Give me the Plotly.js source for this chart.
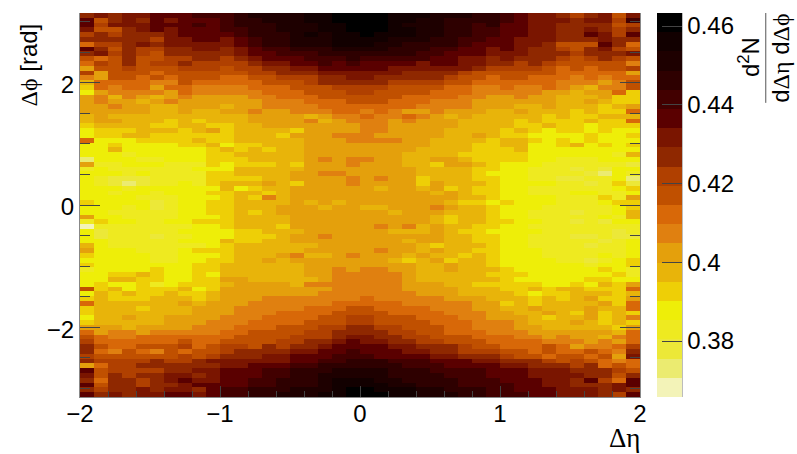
<!DOCTYPE html>
<html>
<head>
<meta charset="utf-8">
<script src="https://cdn.plot.ly/plotly-3.0.1.min.js"></script>
<style>html, body { margin: 0; background: #fff; }</style>
</head>
<body>
<div id="corr-plot" style="width: 797px; height: 454px;"></div>
<script>
// value and colour of each of the 20 colour bar bands, a = lowest ... t = highest
const bandLetters = "abcdefghijklmnopqrst";
const bandValues = [0.3682, 0.3731, 0.378, 0.3829, 0.3877, 0.3926, 0.3975, 0.4024, 0.4072, 0.4121,
    0.417, 0.4219, 0.4267, 0.4316, 0.4365, 0.4414, 0.4462, 0.4511, 0.456, 0.4609];
const bandColors = ["#f3f3b8", "#ebeb70", "#ece838", "#eeea20", "#eeee08", "#eecf06", "#e8b40a", "#e4a00c", "#e08010", "#d86808",
    "#c05000", "#b04000", "#8f2800", "#7a1500", "#5a0000", "#420000", "#2e0000", "#1e0000", "#120000", "#000000"];

// one row per delta phi bin, top of the picture first, 40 delta eta bins in each
const topRows = [
    "mnmnnooopp pqrrrrsstt ttsssrrrqq ponnmlmnkn",
    "okmnmonooo pqqrrrsstt ttssrrqqqq ponnnmnnlp",
    "olnnnooopo pqqqrrrsst ttsrrrqqpq oonnmmmmkl",
    "nkkmnonooo ppqqrrrsst ttssrrqqpp oonnmmnmlm",
    "lmlmmmnooo opqqqrsrss tsssrrqqpp oonnmmonlo",
    "mmmmmlnnoo nopqqrrrss ssrrrqqppo onnnmmmnmm",
    "jllmnmnnnn nopqqrrrss srrqqqqpoo onnmkkkomj",
    "omkmllmmnn mnoppqqqrr rrqqqppoon onmmlkmnlk",
    "mnlmlkmmmm mnoopppqqq qqqqppooon nnmmmlmmmn",
    "kjkmkkllmm lmnooopppq pppppoonnm nmmmlklmlk",
    "jlkmkllmll llmnnoopop oooonoonnm mlmlkkkkki",
    "hkklkkklll kllmmnnooo oonnnnnnml lllkjkjkkl",
    "lhkkkjkkkk kkllmmmnnn nnnmmmmlkk kkkkjjjjjh",
    "ihkkjkjkkk jjkklllmmn nmmmmmlkkj kkjjjijijj",
    "gjjjjiikjj jjjkkklmmm mmllllkkjj jjjjiiihik",
    "fjijjhjjii iijjjkkkll llkkkkjjii jiijihgiik",
    "ehiiiihjii iiijjjkkkl lkkkkjjjii iiihhghhjf",
    "higihghihh hhiijjjkkk kkkjjjjiih hihhggghff",
    "hihhghihhh hhhiiijjjk kkjjjiiihh hhhhgghgff",
    "hhihhgghhh ghhiiiijjj jjjjiiiihh hgghgggfgh",
    "hhhhhgghgg hhihhiiijj ijihhihhhg ghgggfgffj",
    "ghgggggggg gghhhhghii jiijihghgg gggfgffggg",
    "ghhgggfgfg gghhhhighi iihihhhggg gfgfffgffj",
    "fggggffggf fgghhhhhhh iihhhhhggg gffgffefff",
    "efffgggfgh fggggfhhhh iihhhhgggg fgfeffefee",
    "effggfffff fgggfhhhii ihhhhhgghg ffeeeefeef",
    "jeeeffffgf fggggghhhi iiihhggggf ggfefefeee",
    "eefeeeeffg effggghhhh hhhhhgggff ggeefgefef",
    "eegeeeeeef gfgfgghhhh hhhhggggff fgeeeeeeee",
    "eeedeeeeef fggggghhhh hhhggggfff ffeeeeeedg",
    "beeeddeeef ffgggghihi ihhgghhgff ffeedddeee",
    "hddeeedddf efffgfhhhi hhhggfhhgf eeeddddddc",
    "deddddddee eggggghhhh hhhhggggff eedddcdcee",
    "eeededdddf fgggghhiih hhhhggggfe eeddddcbed",
    "edcccddddf fffgghhhhi hihhfgggff eeddccddeb",
    "edcbcddedf ggghgfhhhi hhhhfhgggf eeeeddcdfc",
    "eeedeeeeee gefgghhhhh hghhghfgff eeddddddef",
    "eedeedeeef fggfghhhhh hhhhhghgff eedddeedde",
    "eeeedddeee fgfighhhhh hhhhhhhggf eeeedddfdh",
    "feeeecdeef fgggghghgh hhhhhhgffe feeedddeff",
];
const bottomRows = [
    "eeedecdeef fggghhhghh gghhhihggf eeedddddef",
    "eedddddeef fgfghhhhhh hhghhhgggf eedddcddeg",
    "heeddddeee fgggghhhhh hhhhhgfggf eedddddedg",
    "dfeeddeeff fgggghhhhh hhhhhgfggf feeddcdcee",
    "adddddddee fgggfhhhhh hihighggff eedddddddd",
    "ecdddddeee effggghhhh hhggghgffe eeedddddcd",
    "ecdddcddee efffghhihh hhhhhhggff eedddccdcc",
    "eedddddeee gffgghhhhh hhhghhggff eedddddcde",
    "geddddddde fgggggghhh hhhhgfgggf eeddddcdde",
    "heeedddeff fggggghhhh hihhghggff eeedddddde",
    "feeeeddeee fggghigghi hhhghggfgf eeeddddede",
    "eeeeeddeef fgghghhhhh hhgfghfggf eeeeddcdef",
    "feeeeeeeff gggggghhhh hhhhgghggf eeeeeedeef",
    "deeeefeeff gggggghhih iihhgghggg feeeeeefed",
    "eeffgfeefe gggggghhii iiihgggggf ffeeeeeefd",
    "eeggffeeff hhggggghii iiihgggggg feeeeeffee",
    "efeefdefff ghhhhgiiii iiihhhggff fffeefegfh",
    "kfgefffgef hhhhhhhhii iiihhhhggg ffgfggfffj",
    "egfgffgffg hhhhhhhiii iiiihhhggg gfeffgggfg",
    "fgfffgggfg hhhiiiiiii jiiiiihhhg ggfgfghffh",
    "jgggggghgh hhiiiiiijj jjjiiiiihh fgfgggghfj",
    "fgggfggghh hiiiiijjjk kjjjjiiihh gghggghggj",
    "fggggggghh hiiijjjjkk kkjjjjiiih hgghgfhfgf",
    "egghgghhhh iiijjjjkkl lkkkjjjiih hhgfgghfgi",
    "fggggghhhi iijjjjkkkl lkkkkjjjii ihggghgfgf",
    "hhhghhhhii ijjjkkkllm mllkkkjjii ihhgggggfh",
    "jhiihiiiii jjkkkkllmm mmllkkjjji iihhhhhhgj",
    "kjiijjjjjj jkkkklllmn nmmllkkkjj jiihihhgij",
    "ljjjjjjkjj kkkkllmmno nnmmllkkkj jjjiiihihj",
    "mkjjkkkljk llkmlmmnoo oonnmmmlkk jjjkjhiijl",
    "mjikjikjkk lmmmmnnoop ooonnmmlll kkjkjjkjim",
    "lkkkkkklkl mmmnnooopp poooonnmmm lkkjkkjkhn",
    "mllllmllmn nnnnnooppq qqpppooonn mmmlklkjij",
    "hjllmmmmmm nnoooppqqq qqqpppoooo nnmmmlmjkj",
    "okllllmmnn oooppqqqrr rrqqqppppo oonnnmmmlk",
    "nkmlmmnnmn oooppqqrrr rrqqqqpppo oonnnnmmkm",
    "mjmmlmnonn ooppqqqrss srrqqqqppp ooonnmoljo",
    "okmmlmmnoo ooppqqqrss ssrrqqqppp poonnmmmno",
    "mlmmnmnnmo ppqqqrrrst tsssrrqqqp pooonnnmnm",
    "omnmnnoono ppqqrrrsst ttssrrrqqp ppoonnnmlo",
];

const zMin = 0.3658;
const zMax = 0.4633;

// plotly wants the lowest delta phi row first
const z = topRows.concat(bottomRows).reverse().map((row) =>
    row.replace(/ /g, "").split("").map((c) => bandValues[bandLetters.indexOf(c)])
);

// hard edged colour scale, so the bar shows bands like the reference
let colorscale = [];
bandColors.forEach((color, i) => {
    colorscale.push([i / bandColors.length, color]);
    colorscale.push([(i + 1) / bandColors.length, color]);
});

const greek = (s) => `<span style="font-family:'Liberation Serif'">${s}</span>`;

const trace = {
    type: "heatmap",
    z: z,
    x0: -1.95,
    dx: 0.1,
    y0: -Math.PI + Math.PI / 80,
    dy: (2 * Math.PI) / 80,
    zmin: zMin,
    zmax: zMax,
    colorscale: colorscale,
    colorbar: {
        thickness: 25,
        thicknessmode: "pixels",
        len: 1,
        y: 0.5,
        yanchor: "middle",
        x: 1.0303,
        xanchor: "left",
        xpad: 0,
        ypad: 0,
        outlinewidth: 0,
        ticks: "inside",
        ticklen: 20,
        tickwidth: 1,
        tickcolor: "#444",
        tick0: 0.38,
        dtick: 0.02,
        tickfont: { family: "Liberation Sans", size: 24, color: "#000" },
    },
};

const center = { xref: "paper", yref: "paper", xanchor: "center", yanchor: "middle", showarrow: false };

const layout = {
    width: 797,
    height: 454,
    margin: { l: 79.5, r: 157, t: 13, b: 57 },
    paper_bgcolor: "#fff",
    plot_bgcolor: "#fff",
    font: { family: "Liberation Sans", size: 24, color: "#000" },
    xaxis: {
        range: [-2, 2],
        tick0: -2,
        dtick: 1,
        ticks: "inside",
        ticklen: 11,
        tickcolor: "#444",
        ticklabelstandoff: -5,
        showgrid: false,
        zeroline: false,
        showline: true,
        linecolor: "#888",
        minor: { dtick: 0.2, ticks: "inside", ticklen: 6, tickcolor: "#444", showgrid: false },
    },
    yaxis: {
        range: [-Math.PI, Math.PI],
        tick0: 0,
        dtick: 2,
        ticks: "inside",
        ticklen: 20,
        tickcolor: "#444",
        ticklabelshift: 2,
        showgrid: false,
        zeroline: false,
        showline: true,
        linecolor: "#888",
        mirror: "ticks",
        minor: { dtick: 0.5, ticks: "inside", ticklen: 10, tickcolor: "#444", showgrid: false },
    },
    // axis titles sit at the axis ends, so they go in as annotations
    annotations: [
        { ...center, text: greek("Δϕ") + " [rad]", x: -0.0919, y: 0.8646, textangle: -90 },
        { ...center, text: greek("Δη"), x: 0.973, y: -0.107, font: { size: 27 } },
        { ...center, text: "d<sup>2</sup>N", x: 1.1945, y: 0.885, textangle: -90 },
        { ...center, text: "d" + greek("Δη") + " d" + greek("Δϕ"), x: 1.2516, y: 0.883, textangle: -90 },
    ],
    shapes: [
        // fraction bar of the colour bar title
        { type: "line", xref: "paper", yref: "paper", x0: 1.2246, x1: 1.2246, y0: 0.766, y1: 1, line: { color: "#555", width: 1 } },
        // right edge of the colour bar
        { type: "line", xref: "paper", yref: "paper", x0: 1.0749, x1: 1.0749, y0: 0, y1: 1, line: { color: "#666", width: 1 } },
    ],
};

Plotly.newPlot("corr-plot", [trace], layout, { displayModeBar: false, staticPlot: true });
</script>
</body>
</html>
